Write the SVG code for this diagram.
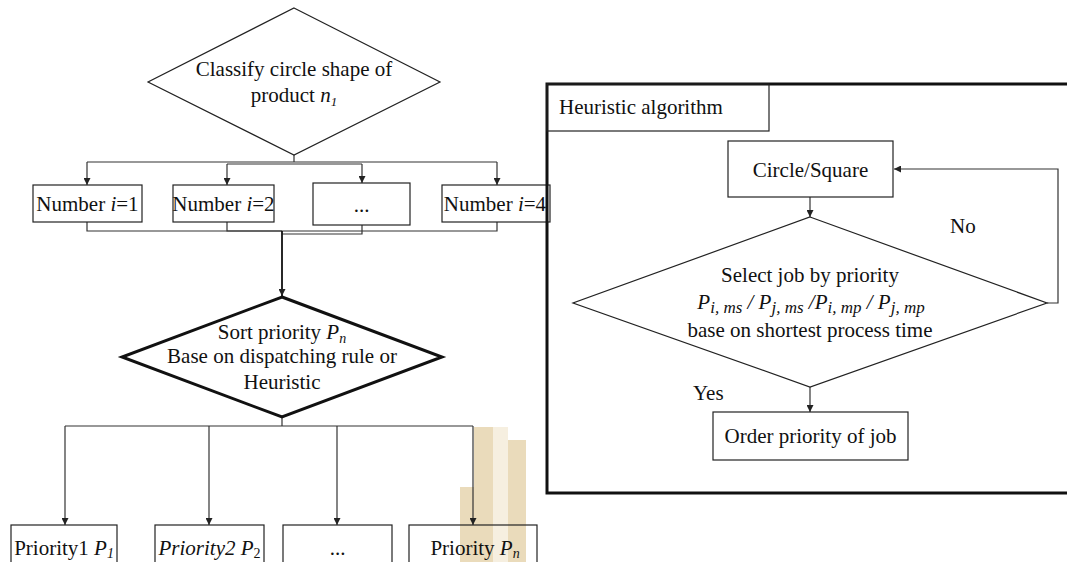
<svg xmlns="http://www.w3.org/2000/svg" width="1067" height="562" viewBox="0 0 1067 562">
  <style>
    text { font-family: "Liberation Serif", "Times New Roman", serif; font-size: 21px; fill: #111; }
    .c { text-anchor: middle; }
    .it { font-style: italic; }
    .box { fill: none; stroke: #222; stroke-width: 1.2; }
    .dia { fill: #fff; stroke: #222; stroke-width: 1.2; }
    .dia-bold { fill: #fff; stroke: #111; stroke-width: 3; }
    .frame { fill: none; stroke: #111; stroke-width: 3; }
    .ln { fill: none; stroke: #333; stroke-width: 1.2; }
    .ln-bold { fill: none; stroke: #111; stroke-width: 1.8; }
    .mark-dark { fill: #eadbbb; }
    .mark-light { fill: #f6efe0; }
  </style>
  <defs>
    <marker id="arrow" markerWidth="7" markerHeight="7" refX="7" refY="3.5" orient="auto" markerUnits="userSpaceOnUse">
      <path d="M0,0 L7,3.5 L0,7 z" fill="#222"/>
    </marker>
  </defs>

  <rect width="1067" height="562" fill="#fff"/>

  <!-- logo mark in the lower middle -->
  <g id="logo-mark">
    <rect class="mark-dark" x="474" y="427" width="19" height="135"/>
    <rect class="mark-light" x="493" y="427" width="15" height="135"/>
    <rect class="mark-dark" x="508" y="440" width="18" height="122"/>
    <rect class="mark-dark" x="460" y="487" width="14" height="75"/>
  </g>

  <!-- connectors -->
  <g id="connectors">
    <!-- classify diamond to number boxes -->
    <polyline class="ln" points="294,155 294,162"/>
    <polyline class="ln" points="87,162 497,162"/>
    <polyline class="ln" points="227,164 362,164"/>
    <line class="ln" x1="87" y1="162" x2="87" y2="185" marker-end="url(#arrow)"/>
    <line class="ln" x1="227" y1="164" x2="227" y2="185" marker-end="url(#arrow)"/>
    <line class="ln" x1="362" y1="164" x2="362" y2="183" marker-end="url(#arrow)"/>
    <line class="ln" x1="497" y1="162" x2="497" y2="185" marker-end="url(#arrow)"/>
    <!-- number boxes merge -->
    <polyline class="ln" points="87,222 87,231 282,231"/>
    <polyline class="ln" points="227,222 227,231 497,231 497,222"/>
    <polyline class="ln" points="362,225 362,234 282,234"/>
    <line class="ln-bold" x1="282" y1="231" x2="282" y2="296" marker-end="url(#arrow)"/>
    <!-- sort diamond to priority boxes -->
    <polyline class="ln" points="282,417 282,426"/>
    <polyline class="ln" points="65,426 473,426"/>
    <line class="ln" x1="65" y1="426" x2="65" y2="525" marker-end="url(#arrow)"/>
    <line class="ln" x1="209" y1="426" x2="209" y2="525" marker-end="url(#arrow)"/>
    <line class="ln" x1="337" y1="426" x2="337" y2="525" marker-end="url(#arrow)"/>
    <line class="ln" x1="473" y1="426" x2="473" y2="525" marker-end="url(#arrow)"/>
    <!-- heuristic flow -->
    <line class="ln" x1="810" y1="197" x2="810" y2="217" marker-end="url(#arrow)"/>
    <line class="ln" x1="810" y1="387" x2="810" y2="412" marker-end="url(#arrow)"/>
    <polyline class="ln" points="1047,303 1058,303 1058,169 894,169" marker-end="url(#arrow)"/>
  </g>

  <!-- left flow -->
  <g id="classify">
    <polygon class="dia" points="294,8 440,82 294,155 148,82"/>
    <text class="c" x="294" y="76">Classify circle shape of</text>
    <text class="c" x="294" y="102">product <tspan class="it">n</tspan><tspan class="it" font-size="13" dy="4">1</tspan></text>
  </g>

  <g id="number-1">
    <rect class="box" x="33" y="185" width="109" height="37"/>
    <text class="c" x="87.5" y="211">Number <tspan class="it">i</tspan>=1</text>
  </g>
  <g id="number-2">
    <rect class="box" x="173" y="185" width="101" height="37"/>
    <text class="c" x="223.5" y="211">Number <tspan class="it">i</tspan>=2</text>
  </g>
  <g id="number-dots">
    <rect class="box" x="313" y="183" width="97" height="42"/>
    <text class="c" x="361.5" y="212">...</text>
  </g>
  <g id="number-4">
    <rect class="box" x="442" y="185" width="108" height="37"/>
    <text class="c" x="495" y="211">Number <tspan class="it">i</tspan>=4</text>
  </g>

  <g id="sort">
    <polygon class="dia-bold" points="282,297 442,357 282,417 122,357"/>
    <text class="c" x="282" y="339">Sort priority <tspan class="it">P</tspan><tspan class="it" font-size="14" dy="4">n</tspan></text>
    <text class="c" x="282" y="363">Base on dispatching rule or</text>
    <text class="c" x="282" y="389">Heuristic</text>
  </g>

  <g id="priority-1">
    <rect class="box" x="11" y="525" width="106" height="45"/>
    <text class="c" x="64" y="555">Priority1 <tspan class="it">P</tspan><tspan class="it" font-size="14" dy="3">1</tspan></text>
  </g>
  <g id="priority-2">
    <rect class="box" x="155" y="525" width="109" height="45"/>
    <text class="c it" x="209.5" y="555" fill="#333">Priority2 P<tspan font-size="14" dy="3" font-style="normal">2</tspan></text>
  </g>
  <g id="priority-dots">
    <rect class="box" x="283" y="525" width="109" height="45"/>
    <text class="c" x="337.5" y="555">...</text>
  </g>
  <g id="priority-n">
    <rect class="box" x="409" y="525" width="128" height="45"/>
    <text class="c" x="475" y="555" fill="#333">Priority <tspan class="it">P</tspan><tspan class="it" font-size="14" dy="3">n</tspan></text>
  </g>

  <!-- heuristic algorithm panel -->
  <g id="heuristic-frame">
    <rect class="frame" x="547" y="84" width="540" height="409"/>
    <rect class="box" x="547" y="84" width="222" height="47"/>
    <text x="559" y="114" font-size="25">Heuristic algorithm</text>
  </g>

  <g id="circle-square">
    <rect class="box" x="728" y="141" width="165" height="56"/>
    <text class="c" x="810.5" y="177">Circle/Square</text>
  </g>

  <g id="select-job">
    <polygon class="dia" points="810,217 1047,303 810,387 573,303"/>
    <text class="c" x="810" y="282">Select job by priority</text>
    <text class="c it" x="811" y="309" font-size="28">P<tspan font-size="17" dy="4">i, ms</tspan><tspan dy="-4"> / P</tspan><tspan font-size="17" dy="4">j, ms</tspan><tspan dy="-4"> /P</tspan><tspan font-size="17" dy="4">i, mp</tspan><tspan dy="-4"> / P</tspan><tspan font-size="17" dy="4">j, mp</tspan></text>
    <text class="c" x="810" y="337">base on shortest process time</text>
    <text x="950" y="233">No</text>
    <text x="693" y="400">Yes</text>
  </g>

  <g id="order-priority">
    <rect class="box" x="713" y="412" width="195" height="48"/>
    <text class="c" x="810.5" y="443" fill="#333">Order priority of job</text>
  </g>
</svg>
